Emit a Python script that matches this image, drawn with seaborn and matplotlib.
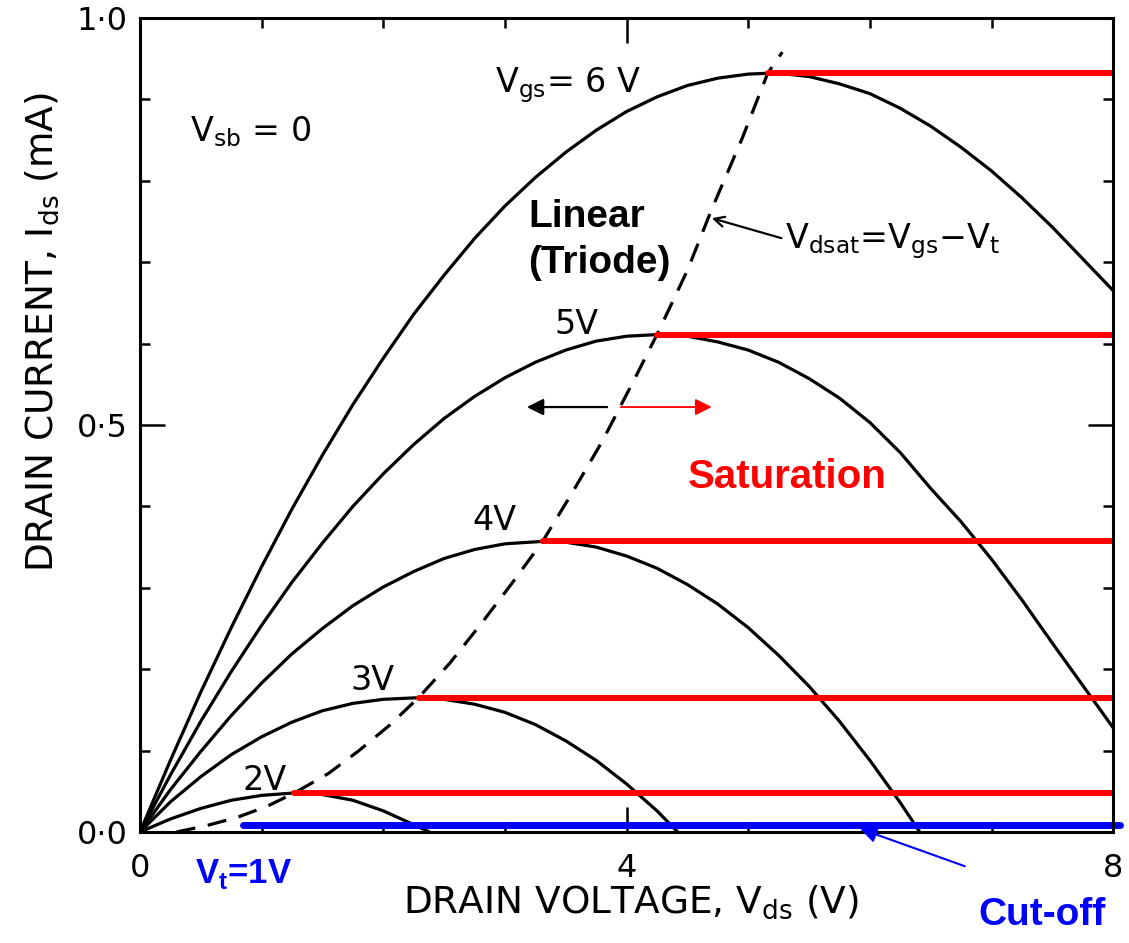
import matplotlib
matplotlib.use("Agg")
import matplotlib.pyplot as plt
import seaborn as sns

# ---------------- data ----------------
v6 = [0, 0.25, 0.5, 0.75, 1.0, 1.25, 1.5, 1.75, 2.0, 2.25, 2.5, 2.75, 3.0, 3.25, 3.5, 3.75,
      4.0, 4.25, 4.5, 4.75, 5.0, 5.16, 5.25, 5.5, 5.75, 6.0, 6.25, 6.5, 6.75, 7.0, 7.25, 7.5, 7.75, 8.0]
i6 = [0, 0.088, 0.172, 0.251, 0.326, 0.397, 0.463, 0.525, 0.582, 0.636, 0.684, 0.729, 0.769, 0.804,
      0.835, 0.862, 0.885, 0.903, 0.917, 0.926, 0.931, 0.932, 0.932, 0.928, 0.919, 0.907, 0.889,
      0.867, 0.841, 0.812, 0.779, 0.743, 0.704, 0.665]

v5 = [0, 0.25, 0.5, 0.75, 1.0, 1.25, 1.5, 1.75, 2.0, 2.25, 2.5, 2.75, 3.0, 3.25, 3.5, 3.75,
      4.0, 4.25, 4.5, 4.75, 5.0, 5.25, 5.5, 5.75, 6.0, 6.25, 6.5, 6.75, 7.0, 7.25, 7.5, 7.75, 8.0]
i5 = [0, 0.070, 0.136, 0.197, 0.254, 0.307, 0.355, 0.400, 0.440, 0.476, 0.508, 0.535, 0.558,
      0.577, 0.592, 0.603, 0.609, 0.611, 0.609, 0.602, 0.592, 0.577, 0.557, 0.533, 0.503, 0.466,
      0.422, 0.381, 0.335, 0.285, 0.232, 0.180, 0.128]

v4 = [0, 0.25, 0.5, 0.75, 1.0, 1.25, 1.5, 1.75, 2.0, 2.25, 2.5, 2.75, 3.0, 3.31, 3.5, 3.75,
      4.0, 4.25, 4.5, 4.75, 5.0, 5.25, 5.5, 5.75, 6.0, 6.25, 6.41]
i4 = [0, 0.052, 0.099, 0.143, 0.183, 0.219, 0.250, 0.278, 0.301, 0.320, 0.336, 0.347, 0.354,
      0.357, 0.356, 0.350, 0.339, 0.324, 0.304, 0.280, 0.251, 0.217, 0.179, 0.136, 0.088, 0.036, 0.0]

v3 = [0, 0.25, 0.5, 0.75, 1.0, 1.25, 1.5, 1.75, 2.0, 2.29, 2.5, 2.75, 3.0, 3.25, 3.5, 3.75,
      4.0, 4.25, 4.42]
i3 = [0, 0.037, 0.068, 0.095, 0.117, 0.135, 0.149, 0.158, 0.163, 0.165, 0.163, 0.157, 0.147,
      0.132, 0.112, 0.088, 0.059, 0.026, 0.0]

v2 = [0, 0.25, 0.5, 0.75, 1.0, 1.27, 1.5, 1.75, 2.0, 2.25, 2.38]
i2 = [0, 0.016, 0.029, 0.039, 0.045, 0.048, 0.046, 0.039, 0.026, 0.009, 0.0]

vdsat_v = [0.3, 0.55, 0.8, 1.05, 1.27, 1.55, 1.8, 2.05, 2.29, 2.55, 2.8, 3.05, 3.31, 3.55, 3.8,
           4.05, 4.25, 4.5, 4.7, 4.95, 5.16, 5.28]
vdsat_i = [0.0, 0.008, 0.018, 0.032, 0.048, 0.072, 0.100, 0.131, 0.165, 0.208, 0.255, 0.304,
           0.357, 0.416, 0.480, 0.552, 0.611, 0.690, 0.765, 0.852, 0.932, 0.958]

sat_start = [1.27, 2.29, 3.31, 4.25, 5.16]
sat_level = [0.048, 0.165, 0.357, 0.611, 0.932]
sat_end = 8.0

cutoff_x = [0.85, 8.06]
cutoff_level = 0.0086

curve_labels = ["2V", "3V", "4V", "5V"]
curve_label_pos = [(0.84, 0.052), (1.73, 0.174), (2.73, 0.371), (3.41, 0.612)]

x_ticks = [0, 4, 8]
x_ticklabels = ["0", "4", "8"]
y_ticks = [0.0, 0.5, 1.0]
y_ticklabels = ["0·0", "0·5", "1·0"]

# ---------------- style ----------------
sns.set_style("ticks")
plt.rcParams["font.family"] = ["DejaVu Sans"]
plt.rcParams["mathtext.fontset"] = "custom"
plt.rcParams["mathtext.rm"] = "DejaVu Sans"
plt.rcParams["mathtext.bf"] = "Liberation Sans:bold"
plt.rcParams["mathtext.it"] = "DejaVu Sans"
for k in ["text.color", "axes.labelcolor", "xtick.color", "ytick.color", "axes.edgecolor"]:
    plt.rcParams[k] = "black"

fig = plt.figure(figsize=(11.29, 9.43), dpi=100)
ax = fig.add_axes([0.124, 0.1177, 0.862, 0.8633])

LW = 2.3
for vv, ii in [(v6, i6), (v5, i5), (v4, i4), (v3, i3), (v2, i2)]:
    sns.lineplot(x=vv, y=ii, ax=ax, color="black", lw=LW, sort=False, estimator=None)

sns.lineplot(x=vdsat_v, y=vdsat_i, ax=ax, color="black", lw=LW, sort=False, estimator=None)
ax.lines[-1].set_dashes((6, 4))

for xs, lvl in zip(sat_start, sat_level):
    sns.lineplot(x=[xs, sat_end], y=[lvl, lvl], ax=ax, color="#ff0000", lw=4.3,
                 sort=False, estimator=None)

sns.lineplot(x=cutoff_x, y=[cutoff_level, cutoff_level], ax=ax, color="#0000ff", lw=5,
             sort=False, estimator=None)
ax.lines[-1].set_clip_on(False)

ax.set_xlim(0, 8)
ax.set_ylim(0, 1.0)

# ticks
ax.set_xticks(x_ticks)
ax.set_xticklabels(x_ticklabels)
ax.set_yticks(y_ticks)
ax.set_yticklabels(y_ticklabels)
ax.set_xticks([1, 2, 3, 5, 6, 7], minor=True)
ax.set_yticks([0.1, 0.2, 0.3, 0.4, 0.6, 0.7, 0.8, 0.9], minor=True)
ax.tick_params(which="both", direction="in", top=True, right=True, width=1.8, color="black",
               labelcolor="black")
ax.tick_params(which="major", length=18, labelsize=23)
ax.tick_params(which="minor", length=7)
ax.tick_params(axis="y", which="major", pad=9)
ax.tick_params(axis="x", which="major", pad=15)
for s in ax.spines.values():
    s.set_linewidth(2.2)
    s.set_color("black")

ax.set_xlabel(r"DRAIN VOLTAGE, V$_{\mathrm{ds}}$ (V)", fontsize=27, va="center")
ax.xaxis.set_label_coords(0.504, -0.086)
ax.set_ylabel(r"DRAIN CURRENT, I$_{\mathrm{ds}}$ (mA)", fontsize=27, va="center")
ax.yaxis.set_label_coords(-0.101, 0.614)

# curve labels
TS = 24
ax.text(2.92, 0.909, r"V$_{\mathrm{gs}}$= 6 V", fontsize=TS, ha="left", va="baseline")
ax.text(0.41, 0.848, r"V$_{\mathrm{sb}}$ = 0", fontsize=TS, ha="left", va="baseline")
for lab, (lx, ly) in zip(curve_labels, curve_label_pos):
    ax.text(lx, ly, lab, fontsize=TS, ha="left", va="baseline")

ax.annotate(r"V$_{\mathrm{dsat}}$=V$_{\mathrm{gs}}$−V$_{\mathrm{t}}$", xy=(4.70, 0.754),
            xytext=(5.30, 0.717), fontsize=TS, ha="left", va="baseline",
            arrowprops=dict(arrowstyle="->", color="black", lw=1.6, mutation_scale=18,
                            shrinkA=0, shrinkB=0, relpos=(0, 0.55)))

# region labels
BF = dict(family="Liberation Sans", weight="bold")
ax.text(3.19, 0.743, "Linear", fontsize=28, color="black", ha="left", va="baseline", **BF)
ax.text(3.19, 0.687, "(Triode)", fontsize=28, color="black", ha="left", va="baseline", **BF)
ax.text(4.50, 0.423, "Saturation", fontsize=29, color="#ff0000", ha="left", va="baseline", **BF)
ax.text(6.89, -0.114, "Cut-off", fontsize=28, color="#0000ff", ha="left", va="baseline",
        clip_on=False, **BF)
ax.text(0.45, -0.063, r"V$_{\mathbf{t}}$=1V", fontsize=25, color="#0000ff", ha="left",
        va="baseline", clip_on=False, **BF)

# arrows
ax.annotate("", xy=(3.18, 0.522), xytext=(3.84, 0.522),
            arrowprops=dict(arrowstyle="-|>", color="black", lw=1.6, mutation_scale=25,
                            shrinkA=0, shrinkB=0))
ax.annotate("", xy=(4.70, 0.522), xytext=(3.95, 0.522),
            arrowprops=dict(arrowstyle="-|>", color="#ff0000", lw=1.3, mutation_scale=25,
                            shrinkA=0, shrinkB=0))
ax.annotate("", xy=(5.92, 0.004), xytext=(6.78, -0.042), annotation_clip=False,
            arrowprops=dict(arrowstyle="-|>", color="#0000ff", lw=1.5, mutation_scale=25,
                            shrinkA=0, shrinkB=0))

fig.savefig("out.png", dpi=100)
